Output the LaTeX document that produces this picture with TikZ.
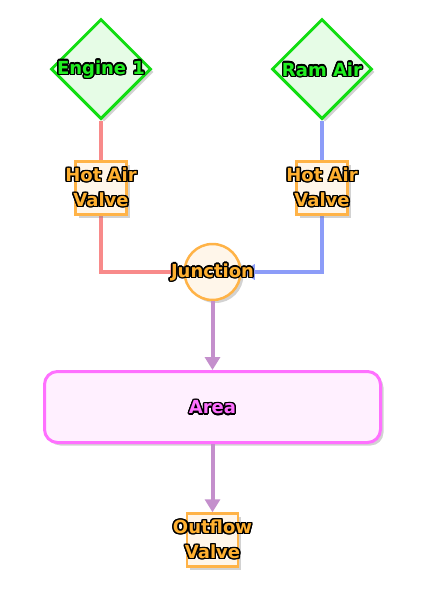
\documentclass[tikz,border=0pt]{standalone}
\usepackage{fontspec}
\setmainfont{DejaVu Sans}
\usepackage{contour}
\contourlength{1.4pt}
\contournumber{16}
\usetikzlibrary{shapes.geometric,shadows,arrows.meta}
\definecolor{grn}{HTML}{11DD11}
\definecolor{grntext}{HTML}{22EE22}
\definecolor{grnfill}{HTML}{E6FCE6}
\definecolor{org}{HTML}{FFB347}
\definecolor{orgfill}{HTML}{FFF6EA}
\definecolor{orgtext}{HTML}{FFB030}
\definecolor{pnk}{HTML}{FF70FF}
\definecolor{pnkfill}{HTML}{FFF0FF}
\definecolor{salmon}{HTML}{F88A8A}
\definecolor{blu}{HTML}{8C9CF8}
\definecolor{purp}{HTML}{C48FCC}
\newcommand{\otext}[2]{\contour{black}{\textcolor{#1}{#2}}}
\begin{document}
\begin{tikzpicture}[x=1pt,y=-1pt,
  shd/.style={drop shadow={shadow xshift=3pt,shadow yshift=-3pt,opacity=0.35,fill=gray}},
  lbl/.style={font=\bfseries\fontsize{18}{25}\selectfont,align=center,inner sep=0pt},
  srcnode/.style={diamond,draw=grn,fill=grnfill,line width=3pt,minimum width=100pt,minimum height=100pt,inner sep=0pt,shd},
  valvenode/.style={rectangle,draw=org,fill=orgfill,line width=2.5pt,minimum width=51pt,minimum height=53pt,inner sep=0pt,shd},
  junc/.style={circle,draw=org,fill=orgfill,line width=2.5pt,minimum size=56pt,inner sep=0pt,shd},
  areanode/.style={rectangle,rounded corners=13pt,draw=pnk,fill=pnkfill,line width=3pt,minimum width=336pt,minimum height=71pt,shd},
  flow/.style={line width=4pt,-{Triangle[length=13pt,width=15pt]}}
]
\useasboundingbox (0,0) rectangle (426,590);
\fill[white] (0,0) rectangle (426,590);
% nodes
\node[srcnode] (eng) at (101,69) {};
\node[srcnode] (ram) at (322,69) {};
\node[junc] (jn) at (212.5,272) {};
\node[areanode] (area) at (212.5,407) {};
% connectors (behind valves)
\coordinate (lc) at (101,272);
\coordinate (rc) at (322,272);
\draw[flow,salmon] (eng.south) -- (lc) -- (jn.west);
\draw[flow,blu] (ram.south) -- (rc) -- (jn.east);
\draw[flow,purp] (jn.south) -- (area.north);
\node[valvenode] (v1) at (101,188) {};
\node[valvenode] (v2) at (322,188) {};
\node[valvenode] (out) at (212.5,540) {};
\draw[flow,purp] (area.south) -- (out.north);
% labels
\node[lbl] (engl) at (101,70) {\otext{grntext}{Engine 1}};
\node[lbl] (raml) at (322,70) {\otext{grntext}{Ram Air}};
\node[lbl] (v1l) at (v1) {\otext{orgtext}{Hot Air}\\\otext{orgtext}{Valve}};
\node[lbl] (v2l) at (v2) {\otext{orgtext}{Hot Air}\\\otext{orgtext}{Valve}};
\node[lbl] (jnl) at (212.5,273) {\otext{orgtext}{Junction}};
\node[lbl] (areal) at (212.5,408) {\otext{pnk}{Area}};
\node[lbl] (outl) at (out) {\otext{orgtext}{Outflow}\\\otext{orgtext}{Valve}};
\end{tikzpicture}
\end{document}
